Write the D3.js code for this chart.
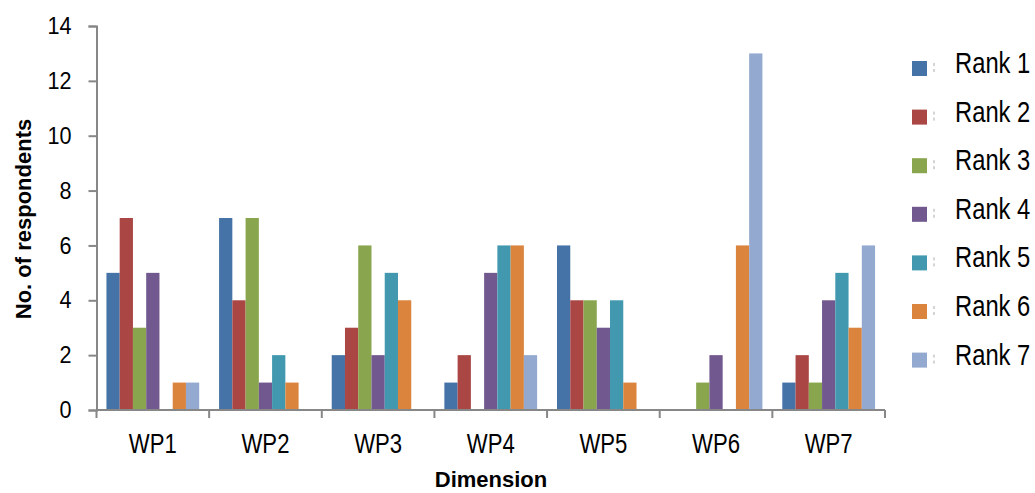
<!DOCTYPE html>
<html>
<head>
<meta charset="utf-8">
<script src="https://cdn.jsdelivr.net/npm/d3@7"></script>
<style>
  body { margin: 0; background: #fff; }
  svg { display: block; }
</style>
</head>
<body>
<svg id="chart" width="1035" height="493"></svg>
<script>
// data
let categories = ["WP1", "WP2", "WP3", "WP4", "WP5", "WP6", "WP7"];
let ranks = ["Rank 1", "Rank 2", "Rank 3", "Rank 4", "Rank 5", "Rank 6", "Rank 7"];
let rank1 = [5, 7, 2, 1, 6, 0, 1];
let rank2 = [7, 4, 3, 2, 4, 0, 2];
let rank3 = [3, 7, 6, 0, 4, 1, 1];
let rank4 = [5, 1, 2, 5, 3, 2, 4];
let rank5 = [0, 2, 5, 6, 4, 0, 5];
let rank6 = [1, 1, 4, 6, 1, 6, 3];
let rank7 = [1, 0, 0, 2, 0, 13, 6];
let yTicks = [0, 2, 4, 6, 8, 10, 12, 14];

let series = [rank1, rank2, rank3, rank4, rank5, rank6, rank7];
let colors = ["#4572A7", "#AA4643", "#89A54E", "#71588F", "#4198AF", "#DB843D", "#93A9CF"];

let plotLeft = 96.5, plotRight = 885, plotTop = 26, plotBottom = 410;
let axisColor = "#878787";
let sans = "'Liberation Sans', Arial, sans-serif";
let squeeze = 0.82; // narrow look: the regular labels are a condensed face

let svg = d3.select("#chart");

let x = d3.scaleBand().domain(categories).range([plotLeft, plotRight]).paddingInner(0).paddingOuter(0);
let xInner = d3.scaleBand().domain(ranks).range([0, x.bandwidth()]).paddingOuter(0.75).paddingInner(0);
let y = d3.scaleLinear().domain([0, 14]).range([plotBottom, plotTop]);
let color = d3.scaleOrdinal().domain(ranks).range(colors);

// bars
let groups = svg.selectAll(".cat")
    .data(categories)
    .enter().append("g")
    .attr("class", "cat")
    .attr("transform", d => "translate(" + x(d) + ",0)");

groups.selectAll("rect")
    .data((c, ci) => ranks.map((r, ri) => ({rank: r, value: series[ri][ci]})))
    .enter().append("rect")
    .attr("x", d => xInner(d.rank))
    .attr("width", xInner.bandwidth())
    .attr("y", d => y(d.value))
    .attr("height", d => plotBottom - y(d.value))
    .attr("fill", d => color(d.rank));

// y axis
let yAxis = svg.append("g")
    .attr("transform", "translate(" + plotLeft + ",0)")
    .call(d3.axisLeft(y).tickValues(yTicks).tickSize(8).tickPadding(17));
yAxis.select(".domain").attr("stroke", axisColor).attr("stroke-width", 2);
yAxis.selectAll(".tick line").attr("stroke", axisColor).attr("stroke-width", 2);
yAxis.selectAll("text")
    .attr("x", -25 / 0.9)
    .attr("transform", "scale(0.9,1)")
    .attr("font-family", sans)
    .attr("font-size", 24)
    .attr("fill", "#000");

// x axis: ticks on category boundaries
let xAxis = svg.append("g")
    .attr("transform", "translate(0," + plotBottom + ")");
xAxis.append("line")
    .attr("x1", plotLeft).attr("x2", plotRight)
    .attr("stroke", axisColor).attr("stroke-width", 2);
let bounds = categories.map(c => x(c)).concat([x(categories[categories.length - 1]) + x.bandwidth()]);
xAxis.selectAll(".xtick")
    .data(bounds)
    .enter().append("line")
    .attr("class", "xtick")
    .attr("x1", d => d).attr("x2", d => d)
    .attr("y1", 0).attr("y2", 8)
    .attr("stroke", axisColor).attr("stroke-width", 2);
xAxis.selectAll(".xlabel")
    .data(categories)
    .enter().append("text")
    .attr("class", "xlabel")
    .attr("transform", d => "translate(" + (x(d) + x.bandwidth() / 2) + ",43) scale(" + squeeze + ",1)")
    .attr("text-anchor", "middle")
    .attr("font-family", sans)
    .attr("font-size", 27)
    .text(d => d);

// axis titles
svg.append("text")
    .attr("transform", "translate(31,219)rotate(-90)")
    .attr("text-anchor", "middle")
    .attr("font-family", sans)
    .attr("font-weight", "bold")
    .attr("font-size", 22)
    .text("No. of respondents");

svg.append("text")
    .attr("x", 491).attr("y", 487)
    .attr("text-anchor", "middle")
    .attr("font-family", sans)
    .attr("font-weight", "bold")
    .attr("font-size", 22)
    .text("Dimension");

// legend
let legend = svg.selectAll(".legend")
    .data(ranks)
    .enter().append("g")
    .attr("class", "legend")
    .attr("transform", (d, i) => "translate(912," + (61 + i * 48.6) + ")");

legend.append("rect")
    .attr("width", 15).attr("height", 15)
    .attr("fill", d => color(d));

legend.append("line")
    .attr("x1", 22).attr("x2", 22)
    .attr("y1", 2).attr("y2", 14)
    .attr("stroke", "#aaa").attr("stroke-width", 1)
    .attr("stroke-dasharray", "3,3");

legend.append("text")
    .attr("transform", "translate(43,12) scale(" + squeeze + ",1)")
    .attr("font-family", sans)
    .attr("font-size", 29)
    .text(d => d);
</script>
</body>
</html>
